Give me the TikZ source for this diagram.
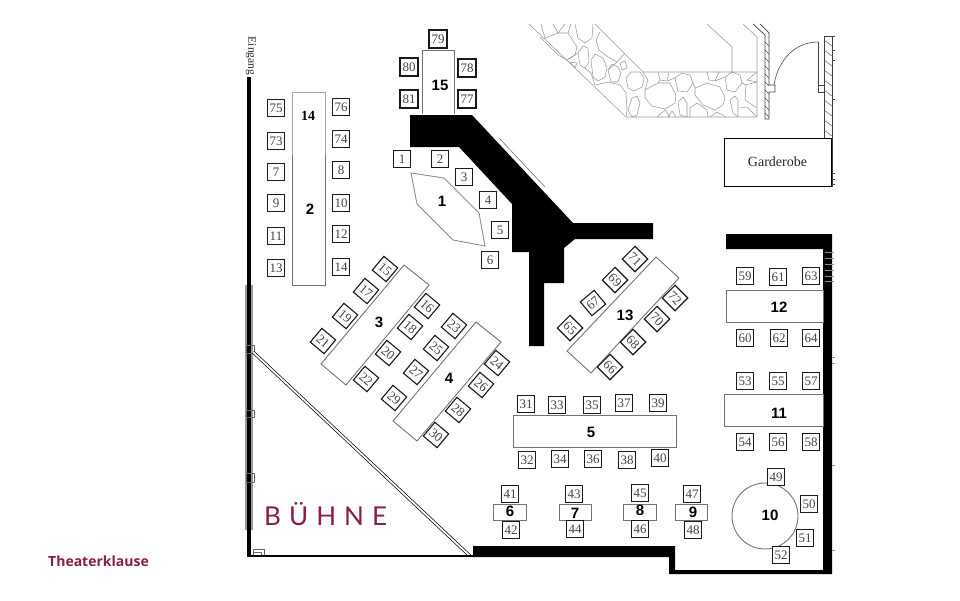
\documentclass[tikz,border=0pt]{standalone}
\usepackage{fontspec}
\setmainfont{Liberation Serif}
\newfontfamily\labelfont{Liberation Sans}
\newfontfamily\brandfont{Open Sans}
\newfontfamily\stagefont[LetterSpace=31]{Lato}
\definecolor{stagered}{HTML}{8A1C4B}
\definecolor{seatgray}{HTML}{444444}
\tikzset{
    seat/.style={draw=black!90, line width=1.1pt, fill=white, minimum size=17pt, inner sep=0pt, text=seatgray, font=\fontsize{13}{13}\selectfont},
    turned/.style={seat, minimum size=18pt, rotate=-40},
    turnedback/.style={seat, minimum size=18pt, rotate=-45},
    tablebox/.style={draw=black!55, line width=0.9pt},
    tablelabel/.style={inner sep=0pt, font=\labelfont\bfseries\fontsize{15}{15}\selectfont},
    stone/.style={draw=black!40, line width=0.55pt, line join=round},
    hatch/.style={draw=black!70, line width=0.45pt},
    thinwall/.style={draw=black!75, line width=0.7pt}
}
\begin{document}
\begin{tikzpicture}[x=1pt, y=-1pt]
    \useasboundingbox (0,0) rectangle (960,600);
    % black walls
    \fill[black] (410,115) -- (472,115) -- (573,223) -- (653,223) -- (653,239) -- (575,239) -- (564,248) -- (564,283) -- (544,283) -- (544,346) -- (529,346) -- (529,252) -- (512,252) -- (512,204) -- (459,147) -- (410,147) -- cycle;
    \fill[black] (726,234) -- (832,234) -- (832,574) -- (669,574) -- (669,557) -- (473,557) -- (473,546) -- (675,546) -- (675,570) -- (823,570) -- (823,249) -- (726,249) -- cycle;
    \draw[black!55, line width=0.6pt] (499,138) -- (545,187);
    % left wall and stage
    \fill[black!40] (245,285) rectangle (253,530);
    \fill[black] (247,77) rectangle (251,557);
    \draw[black!60, line width=0.5pt] (246,345) rectangle (254,353);
    \draw[black!60, line width=0.5pt] (246,410) rectangle (254,417);
    \draw[black!60, line width=0.5pt] (246,473) rectangle (254,482);
    \draw[black!60, line width=0.5pt] (253,549) rectangle (264,556) (253,552) -- (261,552) -- (261,556);
    \draw[black, line width=0.7pt, double, double distance=1.8pt] (253,352) -- (470,556);
    \draw[black, line width=1.8pt] (247,556) -- (473,556);
    % stone floor
    \draw[stone] (529,24) -- (626,117) -- (757,117);
    \draw[stone] (595,24) -- (643,72) -- (757,72);
    \draw[stone] (707,24) -- (732,47) -- (732,72);
    \draw[stone] (743,24) -- (757,37) -- (757,117);
    \draw[stone] (545,38) -- (558,33) -- (568,33) -- (577,47) -- (575,55) -- (567,60) -- (558,55) -- (540,37);
    \draw[stone] (541,24) -- (545,38) (553,24) -- (558,33) -- (565,24) (568,33) -- (571,24);
    \draw[stone] (578,53) -- (583,46) -- (588,48) -- (589,62) -- (585,68) -- (580,65) -- cycle;
    \draw[stone] (575,24) -- (578,38) -- (585,43) -- (592,38) -- (593,24);
    \draw[stone] (591,60) -- (595,54) -- (603,58) -- (607,68) -- (605,77) -- (598,81) -- (593,77) -- cycle;
    \draw[stone] (600,32) -- (596,40) -- (599,50) -- (608,57) -- (617,62) -- (625,53);
    \draw[stone] (608,70) -- (612,64) -- (618,67) -- (621,73) -- (618,82) -- (611,82) -- cycle;
    \draw[stone] (620,63) -- (625,61) -- (627,68) -- (622,70) -- cycle;
    \draw[stone] (626,78) -- (631,72) -- (640,72) -- (644,78) -- (642,87) -- (634,91) -- (628,88) -- cycle;
    \draw[stone] (628,110) -- (632,98) -- (637,96) -- (640,103) -- (637,115) -- (632,117) -- cycle;
    \draw[stone] (595,85) -- (608,82) -- (620,85) -- (626,93) -- (627,110) -- (626,117);
    \draw[stone] (570,62) -- (577,63) -- (575,68) -- cycle;
    \draw[stone] (567,60) -- (578,53) (585,68) -- (591,73) -- (595,85) (617,62) -- (608,70);
    \draw[stone] (645,90) -- (658,83) -- (670,83) -- (676,95) -- (675,103) -- (665,109) -- (652,106) -- (645,98) -- cycle;
    \draw[stone] (675,78) -- (682,73) -- (690,75) -- (693,83) -- (687,92) -- (678,91) -- cycle;
    \draw[stone] (695,88) -- (707,83) -- (720,87) -- (725,98) -- (723,105) -- (715,110) -- (703,105) -- (695,95) -- cycle;
    \draw[stone] (725,77) -- (732,72) -- (740,75) -- (742,83) -- (735,92) -- (727,90) -- cycle;
    \draw[stone] (730,100) -- (735,96) -- (738,100) -- (738,117) -- (733,113) -- cycle;
    \draw[stone] (678,102) -- (683,97) -- (687,103) -- (687,117) -- (680,115) -- cycle;
    \draw[stone] (757,82) -- (746,85) -- (745,100) -- (757,108);
    \draw[stone] (740,108) -- (747,107) -- (757,117);
    \draw[stone] (658,72) -- (660,80) -- (667,81) -- (669,72);
    \draw[stone] (707,72) -- (709,80) -- (715,81) -- (719,72);
    \draw[stone] (757,72) -- (747,80) -- (757,82);
    \draw[stone] (657,117) -- (665,110) -- (670,117);
    \draw[stone] (668,117) -- (672,111) -- (676,117);
    \draw[stone] (690,117) -- (690,108) -- (697,103) -- (707,110) -- (708,117);
    \draw[stone] (710,117) -- (717,112) -- (726,117);
    \draw[stone] (643,72) -- (648,80) -- (645,90) (658,83) -- (660,80) (667,81) -- (675,78) (693,83) -- (695,88) (715,81) -- (725,77) (742,83) -- (746,85);
    % entrance walls and door
    \draw[thinwall] (753,24) -- (765,35) -- (765,119) -- (769,119) -- (769,92) -- (775,92) -- (775,85) -- (769,85) -- (769,33) -- (760,24);
    \draw[thinwall] (818,42) -- (818,92) -- (824,92);
    \draw[thinwall] (818,85) -- (824,85);
    \draw[thinwall] (824,36) -- (824,138);
    \draw[thinwall] (824,36) -- (835,36);
    \draw[thinwall] (832,36) -- (832,187);
    \draw[black!70, line width=0.6pt] (818,42) .. controls (795,42) and (778,60) .. (774,85);
    \draw[hatch] (765,42) -- (769,46) (765,50) -- (769,54) (765,58) -- (769,62) (765,66) -- (769,70) (765,74) -- (769,78) (765,82) -- (769,86) (765,90) -- (769,94) (765,98) -- (769,102) (765,106) -- (769,110) (765,113) -- (769,117);
    \draw[hatch] (824,40) -- (832,46) (824,50) -- (832,56) (824,60) -- (832,66) (824,70) -- (832,76) (824,80) -- (832,86) (824,90) -- (832,96) (824,100) -- (832,106) (824,110) -- (832,116) (824,120) -- (832,126) (824,130) -- (832,136);
    \draw[hatch] (832,173) -- (835,173) (832,179) -- (835,179) (832,184) -- (835,184) (832,50) -- (835,50) (832,60) -- (835,60) (832,99) -- (835,99);
    \draw[hatch, black!45] (825,252) -- (834,252) (825,258) -- (834,258) (825,264) -- (834,264) (825,270) -- (834,270) (825,276) -- (834,276) (825,281) -- (834,281) (832,357) -- (835,357) (832,363) -- (835,363) (832,465) -- (835,465) (832,550) -- (835,550);
    \node[draw=black, line width=1pt, fill=white, minimum width=107pt, minimum height=48pt, inner sep=0pt, font=\fontsize{14}{14}\selectfont, text=black!85] (garderobe) at (777.5,162) {Garderobe};
    % tables
    \draw[draw=black!35, line width=0.9pt] (292,155) -- (292,92) -- (325,92) -- (325,155);
    \draw[tablebox] (292,155) -- (292,285) -- (325,285) -- (325,155);
    \draw[tablebox] (422,114) -- (422,50) -- (454,50) -- (454,114);
    \draw[tablebox, black!45] (411,173) -- (444,178) -- (479,213) -- (485,246) -- (453,240) -- (417,204) -- cycle;
    \draw[tablebox] (404,265) -- (429,285) -- (346,385) -- (321,364) -- cycle;
    \draw[tablebox] (476,322) -- (501,342) -- (417,441) -- (393,421) -- cycle;
    \draw[tablebox] (656,257) -- (679,278) -- (591,373) -- (567,351) -- cycle;
    \draw[tablebox] (513,415) rectangle (676,447);
    \draw[tablebox] (726,290) rectangle (823,322);
    \draw[tablebox] (724,394) rectangle (823,426);
    \draw[tablebox] (493,504) rectangle (526,520);
    \draw[tablebox] (559,504) rectangle (591,520);
    \draw[tablebox] (623,504) rectangle (656,520);
    \draw[tablebox] (675,504) rectangle (707,520);
    \draw[tablebox] (765,516) circle (33pt);
    % table numbers
    \node[tablelabel] (t1) at (442,201) {1};
    \node[tablelabel] (t2) at (310,209) {2};
    \node[tablelabel] (t3) at (379,322) {3};
    \node[tablelabel] (t4) at (449,378) {4};
    \node[tablelabel] (t5) at (591,432) {5};
    \node[tablelabel] (t6) at (510,511) {6};
    \node[tablelabel] (t7) at (575,513) {7};
    \node[tablelabel] (t8) at (640,510) {8};
    \node[tablelabel] (t9) at (693,512) {9};
    \node[tablelabel] (t10) at (770,515) {10};
    \node[tablelabel] (t11) at (779,413) {11};
    \node[tablelabel] (t12) at (779,307) {12};
    \node[tablelabel] (t13) at (625,315) {13};
    \node[inner sep=0pt, font=\bfseries\fontsize{14}{14}\selectfont] (t14) at (308,116) {14};
    \node[tablelabel] (t15) at (440,85) {15};
    % seats
    \node[seat] (s1) at (402,159) {1};
    \node[seat] (s2) at (440,159) {2};
    \node[seat] (s3) at (464,177) {3};
    \node[seat] (s4) at (488,200) {4};
    \node[seat] (s5) at (500,230) {5};
    \node[seat] (s6) at (490,260) {6};
    \node[seat] (s7) at (276,172) {7};
    \node[seat] (s8) at (341,170) {8};
    \node[seat] (s9) at (276,203) {9};
    \node[seat] (s10) at (341,203) {10};
    \node[seat] (s11) at (276,236) {11};
    \node[seat] (s12) at (341,234) {12};
    \node[seat] (s13) at (276,268) {13};
    \node[seat] (s14) at (341,267) {14};
    \node[turned] (s15) at (385,269) {15};
    \node[turned] (s16) at (427,306) {16};
    \node[turned] (s17) at (366,291) {17};
    \node[turned] (s18) at (410,327) {18};
    \node[turned] (s19) at (345,316) {19};
    \node[turned] (s20) at (388,353) {20};
    \node[turned] (s21) at (323,341) {21};
    \node[turned] (s22) at (366,379) {22};
    \node[turned] (s23) at (454,326) {23};
    \node[turned] (s24) at (497,363) {24};
    \node[turned] (s25) at (436,348) {25};
    \node[turned] (s26) at (481,385) {26};
    \node[turned] (s27) at (416,372) {27};
    \node[turned] (s28) at (458,410) {28};
    \node[turned] (s29) at (394,398) {29};
    \node[turned] (s30) at (436,435) {30};
    \node[seat] (s31) at (526,404) {31};
    \node[seat] (s32) at (527,460) {32};
    \node[seat] (s33) at (557,405) {33};
    \node[seat] (s34) at (560,459) {34};
    \node[seat] (s35) at (592,405) {35};
    \node[seat] (s36) at (593,459) {36};
    \node[seat] (s37) at (624,403) {37};
    \node[seat] (s38) at (627,460) {38};
    \node[seat] (s39) at (658,403) {39};
    \node[seat] (s40) at (660,458) {40};
    \node[seat] (s41) at (510,494) {41};
    \node[seat] (s42) at (511,530) {42};
    \node[seat] (s43) at (574,494) {43};
    \node[seat] (s44) at (575,529) {44};
    \node[seat] (s45) at (640,493) {45};
    \node[seat] (s46) at (640,529) {46};
    \node[seat] (s47) at (692,494) {47};
    \node[seat] (s48) at (693,530) {48};
    \node[seat] (s49) at (776,477) {49};
    \node[seat] (s50) at (809,504) {50};
    \node[seat] (s51) at (805,538) {51};
    \node[seat] (s52) at (781,555) {52};
    \node[seat] (s53) at (745,381) {53};
    \node[seat] (s54) at (745,442) {54};
    \node[seat] (s55) at (778,381) {55};
    \node[seat] (s56) at (778,442) {56};
    \node[seat] (s57) at (811,381) {57};
    \node[seat] (s58) at (811,442) {58};
    \node[seat] (s59) at (745,276) {59};
    \node[seat] (s60) at (745,338) {60};
    \node[seat] (s61) at (778,277) {61};
    \node[seat] (s62) at (779,338) {62};
    \node[seat] (s63) at (811,276) {63};
    \node[seat] (s64) at (811,338) {64};
    \node[turnedback] (s65) at (570,328) {65};
    \node[turnedback] (s66) at (610,367) {66};
    \node[seat, minimum size=18pt, rotate=40] (s67) at (593,303) {67};
    \node[turnedback] (s68) at (633,342) {68};
    \node[turnedback] (s69) at (615,280) {69};
    \node[turnedback] (s70) at (657,319) {70};
    \node[turnedback] (s71) at (635,259) {71};
    \node[turnedback] (s72) at (675,298) {72};
    \node[seat] (s73) at (276,141) {73};
    \node[seat] (s74) at (341,139) {74};
    \node[seat] (s75) at (276,108) {75};
    \node[seat] (s76) at (341,107) {76};
    \node[seat, minimum size=18pt] (s77) at (467,99) {77};
    \node[seat, minimum size=18pt] (s78) at (467,68) {78};
    \node[seat, minimum size=18pt] (s79) at (438,39) {79};
    \node[seat, minimum size=18pt] (s80) at (409,67) {80};
    \node[seat, minimum size=18pt] (s81) at (409,99) {81};
    % other texts
    \node[rotate=-90, inner sep=0pt, text=black!85, font=\fontsize{11.5}{12}\selectfont] (entrance) at (251,56) {Eingang};
    \node[anchor=base west, inner sep=0pt, text=stagered, font=\stagefont\fontsize{26}{26}\selectfont] (stage) at (264,525) {BÜHNE};
    \node[anchor=west, inner sep=0pt, text=stagered, font=\brandfont\bfseries\fontsize{14}{14}\selectfont] (brand) at (48,561) {Theaterklause};
\end{tikzpicture}
\end{document}
